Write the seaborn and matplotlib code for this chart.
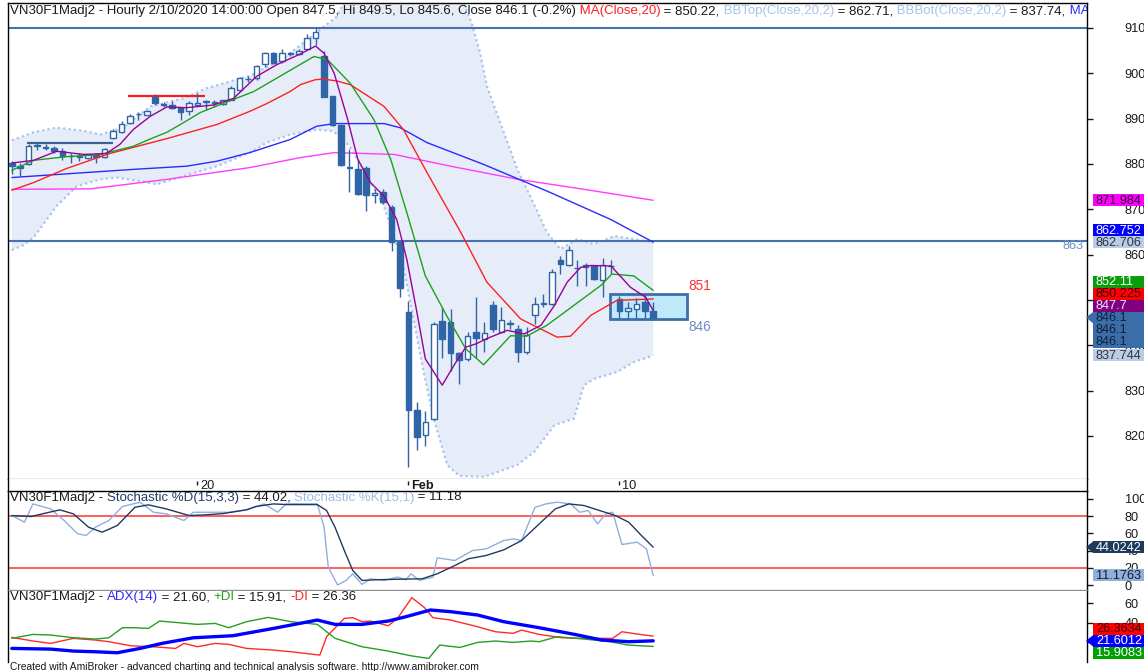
"""
VN30F1M hourly chart with MAs, Bollinger bands, Stochastic and ADX panes,
redrawn in the AmiBroker look.
"""

import matplotlib
matplotlib.use("Agg")
import matplotlib.pyplot as plt
import seaborn as sns
import numpy as np
from matplotlib.patches import Rectangle, Polygon

W, H = 1144, 671

# ---------------- price bars (hourly, 77 bars) ----------------
bar_open = [880.1, 879.5, 879.9, 884.0, 883.7, 883.5, 882.9, 881.8, 881.6, 881.2,
            882.0, 881.6, 885.8, 887.1, 889.0, 891.0, 890.9, 894.8, 893.2, 892.9,
            892.4, 891.6, 893.0, 893.7, 893.5, 893.3, 894.2, 896.2, 898.7, 898.9,
            902.1, 904.4, 902.8, 904.3, 904.3, 905.3, 907.7, 903.8, 894.9, 888.5,
            879.1, 878.8, 879.2, 873.1, 873.7, 870.6, 862.8, 847.4, 825.7, 820.3,
            823.8, 845.4, 845.2, 838.3, 837.0, 842.9, 841.3, 848.9, 843.0, 844.8,
            843.6, 838.5, 846.7, 849.2, 849.1, 858.9, 857.7, 857.0, 857.3, 857.5,
            854.5, 857.4, 850.3, 847.6, 847.9, 849.6, 847.5]
bar_high = [880.6, 880.1, 884.3, 884.8, 884.5, 884.0, 883.5, 882.4, 882.5, 882.0,
            882.4, 883.5, 887.7, 889.4, 891.0, 891.4, 892.0, 895.5, 893.6, 893.8,
            892.6, 893.8, 895.6, 894.1, 894.1, 894.2, 897.2, 899.2, 899.3, 901.8,
            904.6, 904.6, 905.3, 904.8, 905.3, 908.6, 909.9, 905.0, 895.0, 888.6,
            883.2, 881.0, 879.5, 874.5, 874.4, 871.0, 863.0, 849.8, 827.4, 825.5,
            845.2, 848.4, 848.0, 838.6, 842.9, 850.7, 845.1, 849.8, 848.4, 845.6,
            844.4, 844.0, 850.6, 851.3, 856.8, 859.8, 861.8, 858.7, 858.1, 857.8,
            859.3, 858.7, 850.9, 849.5, 850.4, 851.2, 849.5]
bar_low = [877.7, 877.3, 879.7, 883.1, 883.1, 882.4, 880.9, 880.1, 880.6, 881.0,
           880.3, 881.4, 885.4, 886.9, 888.8, 889.8, 890.8, 893.1, 892.6, 892.2,
           889.8, 890.9, 892.8, 892.0, 892.6, 893.0, 894.0, 896.0, 898.1, 898.6,
           901.3, 902.0, 902.2, 903.8, 904.0, 905.1, 906.3, 894.8, 888.3, 879.5,
           873.7, 873.1, 869.7, 871.3, 871.2, 860.8, 850.6, 813.2, 816.9, 817.8,
           823.5, 837.3, 834.4, 831.5, 836.5, 837.3, 838.5, 842.9, 842.6, 843.6,
           836.3, 838.1, 844.7, 848.5, 848.9, 855.8, 857.5, 853.1, 853.1, 854.5,
           850.7, 855.8, 846.0, 846.0, 846.1, 846.0, 845.6]
bar_close = [879.5, 879.1, 883.9, 884.1, 883.6, 882.8, 881.7, 881.7, 881.7, 881.9,
             881.6, 883.2, 887.2, 888.8, 890.5, 891.1, 891.6, 893.5, 893.1, 892.4,
             891.4, 893.5, 893.5, 893.8, 893.6, 894.0, 896.7, 898.9, 898.8, 901.6,
             904.4, 902.2, 904.4, 904.4, 905.0, 907.7, 909.0, 894.8, 888.5, 879.7,
             879.3, 873.3, 873.1, 873.6, 871.5, 862.8, 852.6, 825.7, 819.8, 823.1,
             844.7, 841.4, 838.3, 836.7, 842.0, 841.6, 842.7, 843.6, 845.5, 845.0,
             838.5, 842.3, 849.1, 849.3, 856.2, 857.9, 861.1, 857.1, 857.7, 854.6,
             857.7, 857.5, 847.6, 848.2, 849.2, 847.5, 846.1]

date_tick_idx = [22, 47, 72]
date_tick_lbl = ["20", "Feb", "10"]

# ---------------- overlays (bar index, value) ----------------
ma_purple_idx = [0, 2.6, 5.3, 8.5, 11.2, 12.8, 14.4, 16.4, 18.4, 20.7, 23.9, 26.3, 29, 31.4,
                 34, 36, 37, 38.2, 39.8, 41, 42.5, 44.1, 45.6, 46.8, 48, 49, 50, 51, 52.4,
                 53.8, 55, 56.2, 58.7, 60.7, 62.7, 64.3, 65.8, 67.4, 68.6, 71, 73.3, 75.1, 76]
ma_purple_val = [880.2, 880.8, 882.8, 882.1, 882.3, 884.3, 887.6, 890.5, 892.6, 892.4, 893.0,
                 894.5, 899.3, 901.9, 904.1, 906.0, 904.4, 900.0, 889.8, 881.0, 875.9, 872.9,
                 867.8, 859.0, 847.3, 837.0, 834.1, 831.2, 835.6, 839.6, 840.3, 841.4, 843.3,
                 842.5, 844.4, 848.8, 853.9, 857.2, 857.6, 857.5, 852.8, 850.6, 847.7]

ma_green_idx = [0, 2.6, 6.5, 10.5, 14.4, 16.4, 18.4, 20.7, 22.3, 24.7, 28.7, 33.4, 35.8, 37.4,
                40.1, 42.9, 44.9, 46.8, 49, 51.5, 53.8, 55.9, 59.1, 61, 63.4, 66.6, 69.8,
                71.1, 73.7, 76]
ma_green_val = [878.6, 880.8, 881.6, 882.1, 883.9, 885.5, 887.0, 889.5, 891.3, 893.1, 896.0,
                901.1, 903.7, 903.0, 897.8, 889.8, 881.0, 869.3, 855.3, 846.6, 839.2, 835.7,
                842.1, 842.0, 844.4, 848.8, 853.2, 855.7, 855.3, 852.11]

ma20_idx = [0, 2.6, 6.5, 11.6, 18.4, 24.3, 28.2, 30.2, 33, 34.2, 36, 37, 38.5, 40.1, 44.1,
            46.4, 49.2, 53.2, 56.3, 60.3, 64.6, 66.2, 68.6, 71.7, 76]
ma20_val = [874.2, 875.9, 879.0, 882.3, 885.6, 888.7, 891.6, 893.3, 896.0, 897.5, 898.6,
            898.7, 898.3, 897.5, 892.7, 887.6, 878.1, 864.9, 853.9, 845.8, 841.8, 842.0,
            846.6, 849.9, 850.2248]

ma_blue_idx = [0, 14.4, 20.7, 24.3, 28.2, 33, 36.1, 38.2, 44.1, 46, 49.2, 55.9, 63.8, 70.9, 76]
ma_blue_val = [877.0, 878.8, 879.5, 880.6, 882.5, 885.4, 888.3, 888.9, 888.9, 888.0, 884.7,
               879.9, 873.7, 867.8, 862.752]

ma_magenta_idx = [0, 9.3, 18.4, 28.2, 34.2, 38.2, 45.3, 52, 60, 67.8, 76]
ma_magenta_val = [874.4, 874.5, 876.6, 879.2, 881.4, 882.5, 882.1, 879.5, 876.6, 874.4, 871.984]

bb_top_idx = [0, 2.6, 5.3, 8.5, 10.5, 13.2, 16.4, 20.4, 23.1, 28.3, 32.2, 36, 38.5, 40, 45,
              50, 53, 54.5, 55.5, 56.3, 57.9, 59.9, 61.9, 63.4, 65, 67, 69, 71.4, 73.7, 76]
bb_top_val = [885.2, 887.0, 888.0, 887.3, 886.5, 888.0, 892.7, 894.5, 896.7, 899.5, 903.3,
              908.8, 912.5, 918.0, 922.0, 922.0, 918.0, 911.0, 904.4, 897.1, 889.0, 878.8,
              871.0, 864.9, 861.2, 863.4, 862.3, 864.1, 863.4, 862.706]
bb_bot_idx = [0, 1.3, 2.6, 5.3, 7.7, 10.5, 12.4, 15.2, 17.2, 20.3, 24.3, 28.2, 30.2, 33, 36.1,
              38.1, 40, 42.1, 44.1, 46.4, 47.6, 48.8, 50, 51.6, 53, 56, 59.9, 61.9, 64.3,
              66.6, 67.8, 69, 71.7, 73.7, 76]
bb_bot_val = [861.0, 862.0, 863.8, 870.7, 875.1, 876.6, 877.0, 876.2, 875.5, 877.3, 879.5,
              882.5, 884.7, 886.5, 887.6, 887.2, 884.0, 877.3, 870.7, 857.5, 845.8, 834.1,
              823.8, 813.6, 811.2, 811.0, 813.6, 816.5, 822.4, 823.8, 831.2, 832.6, 834.1,
              836.3, 837.744]

level_prices = [910.0, 863.1]
seg_start = [1.8, 13.8]
seg_end = [12.0, 22.9]
seg_price = [884.7, 894.9]
seg_color = ["#3e5f93", "#ff1a1a"]
box_idx = [70.9, 80.0]
box_price = [845.8, 851.4]

# ---------------- stochastic ----------------
stoch_d_idx = [0, 2.3, 3.6, 5.7, 7.3, 9.1, 10.7, 12.5, 14.6, 16.2, 18.3, 21, 22.8, 25, 27.8,
               28.9, 31, 32.6, 36.2, 37.3, 38.3, 39.4, 40.4, 41.5, 43.1, 46.7, 48.6, 50.4,
               52.5, 54.1, 56.2, 58.3, 60.4, 62.5, 64.4, 66, 67.8, 69.9, 71.5, 73.1, 74.6, 76]
stoch_d_val = [80.8, 79.6, 82.7, 87.4, 82.7, 67.2, 61.4, 69.2, 90.4, 93.2, 88.5, 80.8, 81.5,
               83.0, 87.4, 91.2, 94.3, 93.5, 93.5, 86.6, 67.2, 40.1, 16.9, 5.3, 6.1, 6.9, 7.2,
               13.0, 22.7, 30.5, 34.3, 40.9, 51.7, 71.1, 88.5, 94.3, 92.4, 85.8, 80.8, 73.0,
               57.6, 44.0242]
stoch_k_idx = [0, 1.5, 2.5, 4.6, 6.2, 7.8, 8.8, 9.9, 11.5, 13.1, 15.2, 16.8, 18.3, 20.4, 21.5,
               23.6, 25.7, 27.8, 29.9, 31.5, 32.5, 36.2, 37, 37.5, 38.6, 39.6, 40.4, 41.5,
               42.5, 44.1, 45.7, 46.7, 47.3, 48.3, 49.9, 50.4, 52.5, 54.6, 56.2, 58.3, 59.4,
               60.4, 62, 63.3, 64.6, 66.2, 67.3, 68.3, 69.4, 70.4, 71.2, 72.3, 74.1, 75.2, 76]
stoch_k_val = [80.8, 73.0, 94.3, 88.5, 75.0, 59.5, 57.6, 67.2, 75.0, 91.2, 96.3, 84.6, 82.7,
               75.0, 84.6, 84.6, 84.6, 87.4, 94.3, 84.6, 94.3, 94.3, 67.2, 20.8, 0.0, 5.3,
               13.0, 0.7, 7.2, 5.3, 9.2, 6.1, 13.0, 5.3, 9.2, 31.6, 28.5, 40.1, 42.0, 51.7,
               53.7, 51.7, 90.4, 94.3, 96.3, 94.3, 84.6, 86.6, 71.1, 82.7, 84.6, 47.1, 49.8,
               42.0, 11.1763]

# ---------------- ADX / DI ----------------
mdi_idx = [0, 2.5, 4.6, 7.3, 9.9, 11.5, 14.1, 16.7, 19.4, 20.4, 22, 24.1, 25.7, 27.8, 31,
           33.1, 36.5, 37.3, 39.4, 40.4, 41.5, 42.5, 44.6, 45.7, 47.4, 48.9, 49.9, 52, 55.2,
           57.3, 59.4, 60.4, 62.5, 65.2, 67.8, 71.2, 72.3, 74.1, 76]
mdi_val = [25.1, 21.4, 19.0, 24.1, 22.4, 20.7, 16.6, 15.6, 13.9, 19.0, 15.6, 19.0, 18.0, 13.9,
           12.2, 10.5, 7.1, 25.8, 44.4, 45.1, 41.0, 41.7, 36.9, 44.4, 65.4, 55.3, 45.1, 42.7,
           35.9, 30.8, 29.2, 32.5, 28.1, 24.7, 24.1, 24.1, 30.8, 28.5, 26.3634]
pdi_idx = [0, 2.5, 4.6, 7.3, 9.9, 11.5, 13.1, 14.6, 16.2, 17.5, 19.4, 22, 24.1, 25.7, 27.8,
           30.4, 33.1, 36.2, 38.3, 41.5, 44.6, 47.3, 49.4, 50.7, 53.1, 55.2, 57.3, 59.4, 61.5,
           62.5, 64.6, 67.8, 70.9, 73, 76]
pdi_val = [24.1, 28.1, 27.5, 24.7, 23.4, 24.7, 34.9, 34.9, 34.2, 41.7, 40.3, 38.3, 39.3, 34.9,
           41.0, 45.4, 41.0, 38.3, 24.1, 15.6, 11.2, 6.4, 3.7, 17.3, 14.9, 20.0, 21.4, 20.0,
           21.4, 20.7, 25.8, 23.4, 20.7, 17.3, 15.9083]
adx_idx = [0, 4.6, 7.3, 9.9, 12.5, 15.2, 17.8, 21.5, 26.2, 31, 36.2, 38.3, 41.5, 44.6, 46.7,
           49.6, 52, 55.2, 58.3, 62.5, 66.7, 69.9, 73.1, 76]
adx_val = [13.9, 13.2, 11.2, 10.5, 9.5, 13.9, 19.0, 24.7, 26.8, 34.2, 42.7, 38.3, 38.3, 41.7,
           46.1, 52.9, 51.2, 47.8, 41.0, 34.9, 28.1, 22.4, 20.7, 21.6012]

# ---------------- style ----------------
sns.set_style("white")
plt.rcParams["font.family"] = ["Liberation Sans", "DejaVu Sans"]
FS = 9.55      # pane headers
FS_AX = 9.2    # scale labels / flags
CANDLE = "#2f65a7"
TXT = "#1a1a1a"
C_PURPLE, C_GREEN, C_RED = "#9a009a", "#1ea01e", "#ff2020"
C_BLUE, C_MAG, C_BB = "#2a2aff", "#ff3cff", "#a8c4ea"
C_LEVEL = "#4672ad"

fig = plt.figure(figsize=(W / 100, H / 100), dpi=100)
fig.patch.set_facecolor("white")


def rect(top, bottom):
    return [8 / W, 1 - bottom / H, 1079 / W, (bottom - top) / H]


ax = fig.add_axes(rect(3, 479))
ax_d = fig.add_axes(rect(479, 491))
ax_s = fig.add_axes(rect(491, 590))
ax_a = fig.add_axes(rect(591, 662))

XL = (-0.45, 127.4)
for a in (ax, ax_d, ax_s, ax_a):
    a.set_xlim(*XL)
    a.set_xticks([])
    a.set_facecolor("white")
    for s in a.spines.values():
        s.set_linewidth(1.0)
        s.set_color("black")


def sline(a, idx, val, color, lw=1.0, z=4):
    sns.lineplot(x=idx, y=val, ax=a, color=color, linewidth=lw,
                 estimator=None, sort=False, zorder=z)


# ---------------- price pane ----------------
ax.set_ylim(810.5, 915.5)
ax.fill(np.r_[bb_top_idx, bb_bot_idx[::-1]], np.r_[bb_top_val, bb_bot_val[::-1]],
        color="#e6edf8", lw=0, zorder=1)
sline(ax, bb_top_idx, bb_top_val, C_BB, 1.6, 1.5)
sline(ax, bb_bot_idx, bb_bot_val, C_BB, 1.6, 1.5)
for ln in ax.lines:
    ln.set_linestyle((0, (1, 1.4)))

for lv in level_prices:
    ax.axhline(lv, color=C_LEVEL, lw=1.5, zorder=2)
ax.text(0.9963, level_prices[1] - 1.2, f"{level_prices[1]:.0f}", transform=ax.get_yaxis_transform(),
        ha="right", va="center", fontsize=FS_AX, color="#6d8fc4")
for x0, x1, p, c in zip(seg_start, seg_end, seg_price, seg_color):
    ax.hlines(p, x0, x1, color=c, lw=1.6, zorder=2)

sline(ax, ma_magenta_idx, ma_magenta_val, C_MAG, 1.0, 2)
sline(ax, ma_blue_idx, ma_blue_val, C_BLUE, 1.0, 2)

ax.add_patch(Rectangle((box_idx[0], box_price[0]), box_idx[1] - box_idx[0], box_price[1] - box_price[0],
                       facecolor="#bfe8fb", edgecolor="#3d6ea8", lw=2, zorder=2.5))
ax.text(box_idx[1] + 0.15, box_price[1] + 1.6, f"{box_price[1]:.0f}", color="#ff3030",
        fontsize=9.8, va="center", ha="left")
ax.text(box_idx[1] + 0.15, box_price[0] - 1.7, f"{box_price[0]:.0f}", color="#6d8fc4",
        fontsize=9.8, va="center", ha="left")

o, h_, l_, c = (np.array(v) for v in (bar_open, bar_high, bar_low, bar_close))
xi = np.arange(len(o))
up = c >= o
ax.vlines(xi, l_, h_, color=CANDLE, lw=1, zorder=3)
ax.bar(xi, np.maximum(np.abs(c - o), 0.1), bottom=np.minimum(o, c), width=0.66,
       color=np.where(up, "white", CANDLE), edgecolor=CANDLE, lw=1, zorder=3.5)

sline(ax, ma20_idx, ma20_val, C_RED, 1.0, 4)
sline(ax, ma_green_idx, ma_green_val, C_GREEN, 1.0, 4)
sline(ax, ma_purple_idx, ma_purple_val, C_PURPLE, 1.0, 4.2)

ax.spines["bottom"].set_color("#909090")

# ---------------- date strip ----------------
ax_d.set_yticks([])
for s in ("top", "bottom"):
    ax_d.spines[s].set_visible(False)
tr = ax_d.get_xaxis_transform()
for i, lbl in zip(date_tick_idx, date_tick_lbl):
    ax_d.vlines(i, 0.5, 0.85, color=TXT, lw=1, transform=tr)
    ax_d.text(i + 0.35, 0.38, lbl, transform=tr, fontsize=FS_AX, va="center", ha="left", color=TXT,
              fontweight="bold" if not lbl.isdigit() else "normal")

# ---------------- stochastic pane ----------------
ax_s.set_ylim(-5.8, 109.3)
for lv in (80, 20):
    ax_s.axhline(lv, color="#ff3030", lw=1.1, zorder=1)
sline(ax_s, stoch_k_idx, stoch_k_val, "#8fb0dc", 1.0, 3)
sline(ax_s, stoch_d_idx, stoch_d_val, "#1f3b63", 1.0, 3)
ax_s.spines["bottom"].set_color("#909090")

# ---------------- ADX pane ----------------
ax_a.set_ylim(0.1, 72.2)
sline(ax_a, mdi_idx, mdi_val, "#ff2a2a", 1.0, 3)
sline(ax_a, pdi_idx, pdi_val, "#22a022", 1.0, 3)
sline(ax_a, adx_idx, adx_val, "#0000ff", 2.4, 3.5)
ax_a.spines["top"].set_visible(False)
ax_a.spines["bottom"].set_visible(False)

# ---------------- right scales ----------------
for a, ticks in ((ax, range(820, 911, 10)), (ax_s, range(0, 101, 20)), (ax_a, (20, 40, 60))):
    a.yaxis.tick_right()
    a.set_yticks(list(ticks))
    a.set_yticklabels([str(t) for t in ticks])
    a.tick_params(axis="y", direction="out", length=4, width=1, pad=23,
                  labelsize=FS_AX, colors=TXT)
    a.set_xlabel("")
    a.set_ylabel("")


# ---------------- headers ----------------
def header(a, yfrac, pieces):
    t = a.text(2 / 1079, yfrac, pieces[0][0], transform=a.transAxes, fontsize=FS,
               color=pieces[0][1], va="center", ha="left", clip_on=True, zorder=10)
    for txt, col in pieces[1:]:
        t = a.annotate(txt, xy=(1, 0), xycoords=t, va="bottom", ha="left", fontsize=FS,
                       color=col, annotation_clip=False, clip_on=True, zorder=10)


pct = (bar_close[-1] - bar_close[-2]) / bar_close[-2] * 100
header(ax, 1 - 8.5 / 476, [
    (f"VN30F1Madj2 - Hourly 2/10/2020 14:00:00 Open {bar_open[-1]:g}, Hi {bar_high[-1]:g}, "
     f"Lo {bar_low[-1]:g}, Close {bar_close[-1]:g} ({pct:.1f}%)", TXT),
    (" MA(Close,20)", C_RED), (f" = {ma20_val[-1]:.2f},", TXT),
    (" BBTop(Close,20,2)", C_BB), (f" = {bb_top_val[-1]:.2f},", TXT),
    (" BBBot(Close,20,2)", C_BB), (f" = {bb_bot_val[-1]:.2f},", TXT),
    (" MA(Close,50)", C_BLUE),
])
header(ax_s, 1 - 6.5 / 99, [
    ("VN30F1Madj2 - ", TXT), ("Stochastic %D(15,3,3)", "#1f3b63"),
    (f" = {stoch_d_val[-1]:.2f}, ", TXT), ("Stochastic %K(15,1)", "#9fbce0"),
    (f" = {stoch_k_val[-1]:.2f}", TXT),
])
header(ax_a, 1 - 6 / 71, [
    ("VN30F1Madj2 - ", TXT), ("ADX(14)", "#2a2aff"), (f" = {adx_val[-1]:.2f}, ", TXT),
    ("+DI", "#22a022"), (f" = {pdi_val[-1]:.2f}, ", TXT), ("-DI", "#ff2020"),
    (f" = {mdi_val[-1]:.2f}", TXT),
])


# ---------------- value flags on the right scale ----------------
def flags(a, entries):
    # entries: (value, bg, fg, is_anchor); stacked 12px apart around the anchor
    entries = sorted(entries, key=lambda e: -e[0])
    nat = [H - a.transData.transform((0, e[0]))[1] for e in entries]
    k = [e[3] for e in entries].index(True)
    ys = list(nat)
    for j in range(k - 1, -1, -1):
        ys[j] = min(nat[j], ys[j + 1] - 12)
    for j in range(k + 1, len(entries)):
        ys[j] = max(nat[j], ys[j - 1] + 12)
    for (val, bg, fg, anchor), y in zip(entries, ys):
        fig.patches.append(Rectangle((1093 / W, 1 - (y + 6) / H), 60 / W, 12 / H,
                                     transform=fig.transFigure, facecolor=bg, edgecolor="none"))
        if anchor:
            fig.patches.append(Polygon([(1086 / W, 1 - y / H), (1093.5 / W, 1 - (y - 6) / H),
                                        (1093.5 / W, 1 - (y + 6) / H)], closed=True,
                                       transform=fig.transFigure, facecolor=bg, edgecolor="none"))
        fig.text(1096 / W, 1 - (y + 0.5) / H, f"{val:g}", color=fg, fontsize=FS_AX,
                 va="center", ha="left")


flags(ax, [
    (ma_magenta_val[-1], "#ff00ff", "#2a002a", False),
    (ma_blue_val[-1], "#0000ff", "white", False),
    (bb_top_val[-1], "#b9cde8", "#333333", False),
    (ma_green_val[-1], "#0a9f0a", "white", False),
    (ma20_val[-1], "#ff0000", "#3a0000", False),
    (ma_purple_val[-1], "#800080", "#f0e0ff", False),
    (bar_close[-1], "#3b6ea8", "#0d1f3a", True),
    (bar_close[-1], "#3b6ea8", "#0d1f3a", False),
    (bar_close[-1], "#3b6ea8", "#0d1f3a", False),
    (bb_bot_val[-1], "#b9cde8", "#333333", False),
])
flags(ax_s, [
    (stoch_d_val[-1], "#1e3a5f", "white", True),
    (stoch_k_val[-1], "#8fb0da", "#1a1a2a", False),
])
flags(ax_a, [
    (mdi_val[-1], "#ff0000", "#400000", False),
    (adx_val[-1], "#0000ff", "white", True),
    (pdi_val[-1], "#00a000", "white", False),
])

fig.text(10 / W, 1 - 667 / H,
         "Created with AmiBroker - advanced charting and technical analysis software. "
         "http://www.amibroker.com", fontsize=7.4, color=TXT, va="center", ha="left")

fig.savefig("out.png", dpi=100, facecolor="white")
